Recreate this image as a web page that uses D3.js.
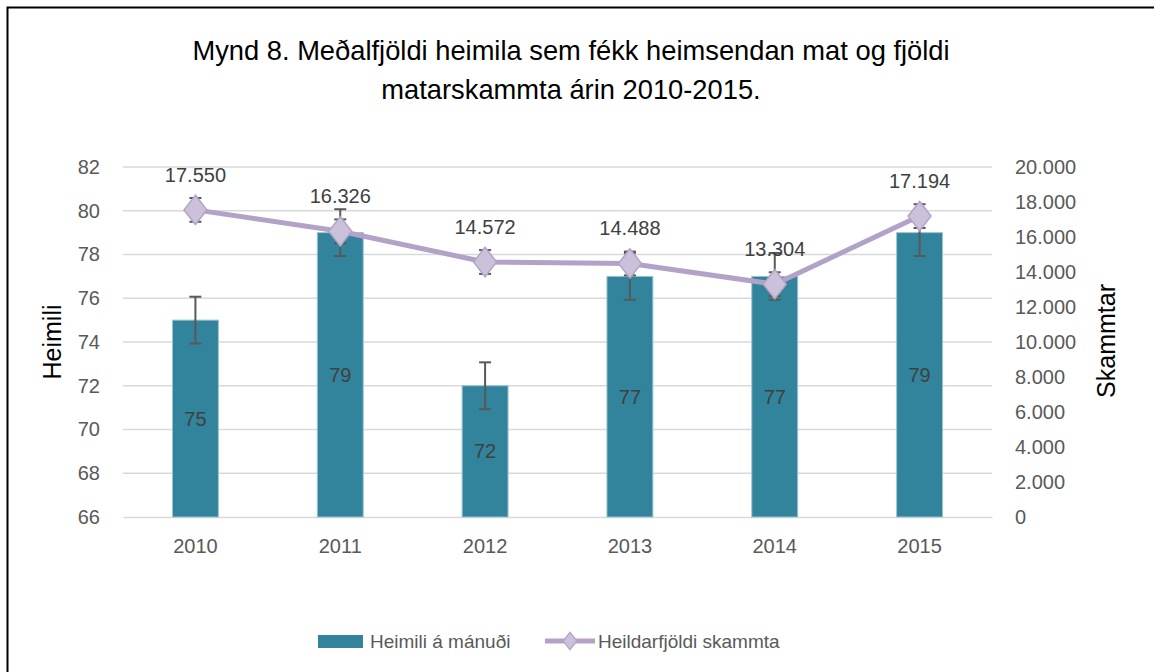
<!DOCTYPE html>
<html lang="is">
<head>
<meta charset="utf-8">
<title>Mynd 8</title>
<script src="https://d3js.org/d3.v7.min.js"></script>
<style>
  body { margin: 0; background: #fff; }
  svg text { font-family: "Liberation Sans", Arial, sans-serif; }
  .tick text { fill: #595959; font-size: 20px; }
</style>
</head>
<body>
<div id="chart"></div>
<script>
// data
var years = ["2010", "2011", "2012", "2013", "2014", "2015"];
var heimili = [75, 79, 72, 77, 77, 79];            // bars, left axis
var heimiliErr = [1.07, 1.07, 1.07, 1.07, 1.07, 1.07];
var skammtar = [17550, 16326, 14572, 14488, 13304, 17194]; // line, right axis
var skammtarErr = [680, 680, 680, 680, 680, 680];
var leftTicks = [66, 68, 70, 72, 74, 76, 78, 80, 82];
var rightTicks = [0, 2000, 4000, 6000, 8000, 10000, 12000, 14000, 16000, 18000, 20000];

var w = 1154, h = 672;
var pLeft = 123, pRight = 992, pTop = 167, pBottom = 517;

var isl = d3.formatLocale({ decimal: ",", thousands: ".", grouping: [3], currency: ["", ""] });
var fmt = isl.format(",d");

var svg = d3.select("#chart").append("svg")
  .attr("width", w).attr("height", h);

// outer frame (right/bottom edge fall outside the picture)
svg.append("rect")
  .attr("x", 7.5).attr("y", 7.5)
  .attr("width", 1160).attr("height", 700)
  .attr("fill", "none").attr("stroke", "#000").attr("stroke-width", 2);

// title
var title = svg.append("text").attr("text-anchor", "middle").attr("font-size", 27.3).attr("fill", "#000");
title.append("tspan").attr("x", 571).attr("y", 60).text("Mynd 8. Meðalfjöldi heimila sem fékk heimsendan mat og fjöldi");
title.append("tspan").attr("x", 571).attr("y", 99).text("matarskammta árin 2010-2015.");

var x = d3.scaleBand().domain(years).range([pLeft, pRight]).paddingInner(0).paddingOuter(0);
var yL = d3.scaleLinear().domain([66, 82]).range([pBottom, pTop]);
var yR = d3.scaleLinear().domain([0, 20000]).range([pBottom, pTop]);

// gridlines
svg.append("g").selectAll("line").data(leftTicks.slice(1)).enter().append("line")
  .attr("x1", pLeft).attr("x2", pRight)
  .attr("y1", function(d) { return yL(d); }).attr("y2", function(d) { return yL(d); })
  .attr("stroke", "#d9d9d9").attr("stroke-width", 1.5);

// axes
var axL = svg.append("g").attr("transform", "translate(" + pLeft + ",0)")
  .call(d3.axisLeft(yL).tickValues(leftTicks).tickSize(0).tickPadding(23));
axL.select(".domain").remove();

var axR = svg.append("g").attr("transform", "translate(" + pRight + ",0)")
  .call(d3.axisRight(yR).tickValues(rightTicks).tickSize(0).tickPadding(23).tickFormat(fmt));
axR.select(".domain").remove();

var axB = svg.append("g").attr("transform", "translate(0," + pBottom + ")")
  .call(d3.axisBottom(x).tickSize(0).tickPadding(22));
axB.select(".domain").attr("stroke", "#d9d9d9").attr("stroke-width", 1.5);

// axis titles
svg.append("text").attr("transform", "translate(61,342) rotate(-90)")
  .attr("text-anchor", "middle").attr("font-size", 25).attr("fill", "#000").text("Heimili");
svg.append("text").attr("transform", "translate(1115,341) rotate(-90)")
  .attr("text-anchor", "middle").attr("font-size", 25).attr("fill", "#000").text("Skammtar");

// bars
var bw = x.bandwidth() * 0.317;
function cx(i) { return x(years[i]) + x.bandwidth() / 2; }

svg.append("g").selectAll("rect").data(heimili).enter().append("rect")
  .attr("x", function(d, i) { return cx(i) - bw / 2; })
  .attr("y", function(d) { return yL(d); })
  .attr("width", bw)
  .attr("height", function(d) { return pBottom - yL(d); })
  .attr("fill", "#31849b").attr("stroke", "#9cc3d0").attr("stroke-width", 1);

// error bars helper
function errBars(vals, errs, scale) {
  var g = svg.append("g").attr("stroke", "#595959").attr("stroke-width", 2);
  vals.forEach(function(v, i) {
    var x0 = cx(i), y1 = scale(v + errs[i]), y2 = scale(v - errs[i]);
    g.append("line").attr("x1", x0).attr("x2", x0).attr("y1", y1).attr("y2", y2);
    g.append("line").attr("x1", x0 - 6).attr("x2", x0 + 6).attr("y1", y1).attr("y2", y1);
    g.append("line").attr("x1", x0 - 6).attr("x2", x0 + 6).attr("y1", y2).attr("y2", y2);
  });
}
errBars(heimili, heimiliErr, yL);

// bar labels (centre of bar)
svg.append("g").selectAll("text").data(heimili).enter().append("text")
  .attr("x", function(d, i) { return cx(i); })
  .attr("y", function(d) { return (yL(d) + pBottom) / 2; })
  .attr("dy", "0.35em").attr("text-anchor", "middle")
  .attr("font-size", 20).attr("fill", "#404040")
  .text(function(d) { return d; });

// line
var line = d3.line().x(function(d, i) { return cx(i); }).y(function(d) { return yR(d); });
svg.append("path").datum(skammtar).attr("d", line)
  .attr("fill", "none").attr("stroke", "#b3a2c7").attr("stroke-width", 5).attr("stroke-linejoin", "round");

errBars(skammtar, skammtarErr, yR);

var diamond = d3.symbol().type(d3.symbolDiamond).size(250);
svg.append("g").selectAll("path").data(skammtar).enter().append("path")
  .attr("d", diamond)
  .attr("transform", function(d, i) { return "translate(" + cx(i) + "," + yR(d) + ") scale(1.35,1)"; })
  .attr("fill", "#ccc1da").attr("stroke", "#b3a2c7").attr("stroke-width", 1.2);

svg.append("g").selectAll("text").data(skammtar).enter().append("text")
  .attr("x", function(d, i) { return cx(i); })
  .attr("y", function(d) { return yR(d) - 35; })
  .attr("dy", "0.35em").attr("text-anchor", "middle")
  .attr("font-size", 20).attr("fill", "#404040")
  .text(function(d) { return fmt(d); });

// legend
var lg = svg.append("g");
lg.append("rect").attr("x", 318).attr("y", 635).attr("width", 45).attr("height", 13).attr("fill", "#31849b");
lg.append("text").attr("x", 370).attr("y", 641).attr("dy", "0.35em")
  .attr("font-size", 19).attr("fill", "#595959").text("Heimili á mánuði");
lg.append("line").attr("x1", 545).attr("x2", 595).attr("y1", 641).attr("y2", 641)
  .attr("stroke", "#b3a2c7").attr("stroke-width", 5);
lg.append("path").attr("d", d3.symbol().type(d3.symbolDiamond).size(90))
  .attr("transform", "translate(570,641) scale(1.35,1)")
  .attr("fill", "#ccc1da").attr("stroke", "#b3a2c7").attr("stroke-width", 1);
lg.append("text").attr("x", 598).attr("y", 641).attr("dy", "0.35em")
  .attr("font-size", 19).attr("fill", "#595959").text("Heildarfjöldi skammta");
</script>
</body>
</html>
